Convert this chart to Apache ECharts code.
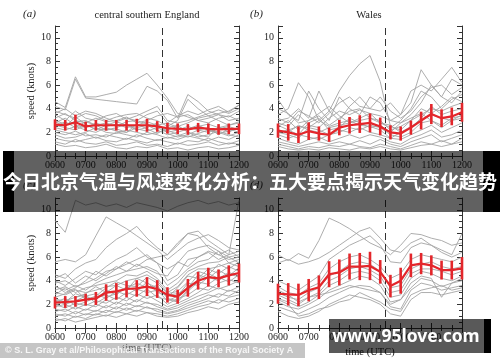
<!DOCTYPE html>
<html><head><meta charset="utf-8">
<script src="https://cdn.jsdelivr.net/npm/echarts@6/dist/echarts.min.js"></script>
<style>html,body{margin:0;padding:0;background:#fff}#c{width:500px;height:362px}</style>
</head><body><div id="c"></div>
<script>
// time in minutes since midnight, 20-min steps 0600..1200
const times = [360,380,400,420,440,460,480,500,520,540,560,580,600,620,640,660,680,700,720];
const xTickLabels = ['0600','0700','0800','0900','1000','1100','1200'];
const dashTime = 570;
const panelLabels = ['(a)','(b)','(c)','(d)'];
const panelTitles = ['central southern England','Wales','',''];
const yName = 'speed (knots)';
const xName = 'time (UTC)';

const meanA = [2.65,2.6,2.85,2.5,2.6,2.6,2.6,2.6,2.6,2.6,2.5,2.35,2.3,2.25,2.4,2.3,2.25,2.3,2.3];
const errA  = [0.45,0.45,0.65,0.4,0.45,0.45,0.45,0.45,0.55,0.55,0.45,0.45,0.45,0.45,0.4,0.45,0.45,0.45,0.45];
const meanB = [2.15,2.0,1.8,2.1,1.9,1.8,2.4,2.6,2.7,2.8,2.5,2.0,1.9,2.4,3.0,3.55,3.2,3.35,3.7];
const errB  = [0.6,0.7,0.7,0.75,0.6,0.6,0.65,0.7,0.75,0.8,0.75,0.6,0.6,0.6,0.75,0.85,0.75,0.75,0.8];
const meanC = [2.15,2.2,2.25,2.4,2.5,3.0,3.1,3.3,3.35,3.5,3.3,2.8,2.65,3.4,4.0,4.3,4.2,4.45,4.65];
const errC  = [0.5,0.5,0.45,0.5,0.55,0.7,0.7,0.7,0.7,0.8,0.75,0.65,0.6,0.75,0.75,0.8,0.75,0.85,0.8];
const meanD = [2.9,2.85,2.8,3.2,3.45,4.55,4.7,5.2,5.2,5.25,4.75,3.55,4.0,5.3,5.45,5.3,4.9,4.9,5.05];
const errD  = [0.85,0.95,0.95,0.95,1.0,1.1,1.1,1.1,1.15,1.2,1.0,0.95,1.1,1.0,0.9,0.85,0.8,0.8,0.95];

const greyA = [
 [4.6,4.1,6.7,5.0,5.0,5.2,5.4,6.0,6.5,7.0,6.0,4.9,3.6,3.3,3.0,3.2,3.5,3.3,3.8],
 [4.2,3.9,6.5,4.9,4.8,4.7,4.6,4.5,4.4,5.9,5.5,4.7,3.2,5.2,4.6,3.8,3.5,3.0,3.2],
 [3.8,3.5,3.2,3.6,3.4,3.0,3.3,3.5,3.6,3.2,3.0,2.5,3.0,4.8,4.0,3.4,3.6,3.8,4.3],
 [3.5,3.0,3.8,3.2,3.0,3.4,3.6,3.1,3.4,3.8,4.2,3.0,2.8,3.0,3.3,3.6,3.9,3.6,4.0],
 [3.2,3.6,3.0,2.8,3.2,2.9,3.0,3.3,2.8,3.0,3.4,3.6,3.3,3.5,3.0,2.8,3.2,3.4,3.0],
 [3.0,2.7,2.9,3.0,2.6,2.8,2.5,2.9,3.0,2.7,2.5,2.2,2.5,2.8,3.2,3.4,3.0,2.6,2.8],
 [2.8,3.2,2.6,2.4,2.8,2.5,2.7,2.4,2.6,2.9,2.6,2.8,2.4,2.2,2.5,2.7,2.4,2.6,2.9],
 [2.6,2.4,2.2,2.6,2.3,2.2,2.4,2.7,2.3,2.1,2.4,2.0,2.2,2.5,2.2,2.0,2.3,2.5,2.2],
 [2.4,2.2,2.5,2.2,2.0,2.4,2.1,2.0,2.4,2.6,2.2,1.8,2.0,2.3,2.6,2.2,1.9,2.1,2.4],
 [2.2,2.0,1.8,2.0,2.4,2.0,1.9,2.2,2.0,1.8,2.0,2.2,1.8,1.6,1.9,2.2,2.0,1.7,2.0],
 [2.0,1.8,2.1,1.7,1.8,1.6,2.0,1.8,1.6,2.0,1.8,1.5,1.7,2.0,1.6,1.8,2.1,1.8,1.6],
 [1.8,1.5,1.6,1.9,1.5,1.8,1.6,1.4,1.8,1.5,1.3,1.6,1.4,1.7,1.5,1.3,1.6,1.4,1.8],
 [1.5,1.3,1.2,1.4,1.6,1.3,1.2,1.5,1.3,1.1,1.4,1.2,1.0,1.3,1.2,1.5,1.2,1.0,1.3],
 [1.2,1.0,1.4,1.1,1.0,1.2,0.9,1.0,1.2,0.9,1.0,0.8,1.1,0.9,1.0,1.2,0.9,1.1,1.0],
 [3.6,4.0,3.4,3.8,3.6,3.2,2.9,3.2,3.0,3.5,3.8,2.8,3.4,3.8,3.5,3.9,4.2,3.7,4.3],
 [1.0,0.8,0.9,0.7,0.8,1.0,0.7,0.6,0.8,0.7,0.9,0.6,0.7,0.5,0.7,0.8,0.6,0.7,0.9],
 [2.9,2.5,3.3,2.7,2.2,2.6,2.9,2.6,2.2,2.4,2.8,1.9,1.6,1.8,2.2,2.4,1.8,2.3,2.0],
 [2.5,2.9,2.4,2.9,2.6,2.2,2.3,2.0,2.7,2.3,1.9,2.4,2.6,2.0,1.8,1.6,2.5,2.0,2.5]
];
const greyB = [
 [3.5,4.0,6.2,5.0,3.0,2.5,2.8,3.0,2.6,2.5,2.2,1.5,2.0,2.5,3.0,3.5,3.2,3.0,3.5],
 [2.0,2.2,2.5,2.4,3.0,3.8,5.5,6.8,7.8,8.5,6.3,2.5,2.2,3.0,3.5,4.0,3.8,4.2,4.5],
 [4.8,3.5,3.0,5.5,4.0,3.0,5.0,4.0,3.5,5.0,4.5,3.0,3.5,4.5,7.3,6.0,5.0,6.5,6.0],
 [3.0,3.2,4.0,3.2,5.5,3.8,3.0,4.2,5.0,4.0,3.8,4.5,3.5,5.5,6.0,5.5,6.5,7.5,6.2],
 [2.8,2.5,3.5,2.6,2.4,3.2,3.8,3.5,3.9,3.6,3.4,3.0,2.8,3.5,4.5,6.0,5.0,4.5,5.5],
 [2.5,3.0,2.2,3.0,3.4,2.6,3.2,3.8,4.0,3.2,3.0,2.2,2.5,3.0,4.0,3.6,4.2,5.0,4.6],
 [2.2,2.0,2.6,2.2,2.0,2.4,2.6,2.8,3.0,3.2,2.8,2.6,2.0,2.4,3.2,4.2,3.5,3.8,4.0],
 [2.0,1.8,1.5,2.4,2.2,1.8,2.0,2.4,2.2,2.6,2.4,1.8,1.6,2.0,2.8,3.0,2.6,3.2,3.4],
 [1.8,1.5,1.8,1.6,1.4,1.8,2.2,2.0,2.4,2.0,1.8,1.5,1.4,1.8,2.2,2.6,2.0,2.4,2.8],
 [1.5,1.2,1.0,1.4,1.6,1.2,1.5,1.8,1.5,1.8,1.6,1.2,1.0,1.5,1.8,2.2,1.6,1.8,2.2],
 [1.2,1.0,0.8,1.0,1.2,1.0,1.2,1.0,1.3,1.0,1.4,1.0,0.8,1.2,1.5,1.8,1.2,1.5,1.8],
 [1.0,0.8,0.6,0.8,0.7,0.9,0.8,1.0,0.8,0.7,1.0,0.8,0.6,0.9,1.2,1.0,1.3,1.0,1.5],
 [3.2,2.8,3.8,3.4,2.8,3.6,4.5,5.0,4.2,4.0,5.0,3.8,3.2,3.8,5.0,5.8,6.0,5.2,5.8],
 [2.6,2.2,1.8,2.8,3.2,2.2,2.4,3.2,2.8,2.4,2.6,2.0,2.8,3.2,3.6,3.0,2.4,3.0,3.2],
 [0.8,0.6,0.5,0.6,0.5,0.7,0.6,0.5,0.7,0.6,0.8,0.6,0.5,0.7,0.9,1.0,0.8,1.0,1.2],
 [4.0,3.6,2.8,3.0,3.6,4.2,3.4,2.8,3.2,3.6,2.8,2.4,3.0,4.0,5.5,5.0,4.0,4.8,5.2]
];
const greyC = [
 [9.1,8.1,10.8,10.4,10.6,10.3,10.5,10.2,10.6,10.4,10.2,9.9,10.3,10.6,10.8,10.5,10.7,10.4,10.6],
 [5.6,5.8,5.6,6.2,7.8,9.4,8.9,8.4,7.8,7.2,6.6,5.8,6.5,7.2,7.6,7.9,7.4,6.8,6.6],
 [4.5,4.2,5.0,5.5,5.8,6.8,7.5,8.0,8.6,7.6,6.8,6.2,7.0,8.0,8.2,7.4,6.8,6.2,6.5],
 [4.0,3.6,4.2,4.8,4.5,5.2,5.8,6.2,6.8,6.0,5.5,5.0,5.5,6.5,6.8,7.0,6.5,6.0,6.2],
 [3.8,4.0,3.5,3.8,4.2,4.8,5.0,5.4,5.8,6.2,5.5,4.0,4.5,5.8,6.0,6.5,6.2,5.8,6.0],
 [3.5,3.2,3.6,3.2,3.8,4.2,4.5,4.8,5.0,5.2,4.8,3.6,4.2,5.0,5.6,5.8,6.5,5.5,5.8],
 [3.2,3.5,3.0,3.4,3.6,3.8,4.0,4.5,4.4,4.8,4.2,3.2,3.8,4.8,5.2,5.5,5.6,6.0,5.5],
 [3.0,2.8,3.2,3.0,3.2,3.5,3.6,4.0,4.2,4.5,4.0,3.0,3.5,4.5,5.0,5.0,5.2,5.5,5.2],
 [2.8,3.4,2.6,2.9,3.5,3.0,3.6,3.2,4.2,3.8,3.4,2.6,3.4,4.4,4.2,5.0,4.6,5.2,4.8],
 [2.5,2.2,2.9,2.6,2.4,3.2,2.8,3.5,3.1,3.9,3.0,2.8,2.9,3.4,4.5,4.2,4.9,4.4,5.1],
 [2.4,2.0,2.3,2.7,2.9,2.5,3.1,2.8,3.3,3.0,3.2,2.3,2.7,3.8,3.6,4.3,4.0,4.6,4.3],
 [2.2,2.5,1.9,2.2,2.6,2.8,2.4,3.0,2.7,3.3,2.6,2.4,2.2,3.1,3.9,3.7,4.3,3.9,4.5],
 [2.0,1.7,2.1,1.9,2.3,2.1,2.6,2.3,2.9,2.5,2.8,2.0,2.5,2.8,3.4,3.2,3.8,4.1,3.8],
 [1.8,2.0,1.6,2.0,1.8,2.4,2.0,2.6,2.2,2.8,2.3,1.8,2.1,2.5,3.0,3.6,3.3,3.6,4.0],
 [1.6,1.4,1.8,1.5,2.0,1.7,2.2,1.9,2.4,2.1,2.0,1.6,1.9,2.3,2.7,3.0,3.4,3.1,3.5],
 [1.4,1.6,1.2,1.6,1.4,1.9,1.6,2.1,1.8,2.2,1.8,1.5,1.7,2.1,2.4,2.8,2.6,3.2,3.0],
 [1.2,1.0,1.4,1.1,1.5,1.3,1.8,1.5,1.9,1.7,1.6,1.3,1.5,1.9,2.2,2.5,2.9,2.7,3.2],
 [1.0,1.2,0.9,1.2,1.1,1.5,1.3,1.7,1.4,1.8,1.4,1.2,1.4,1.7,2.0,2.3,2.1,2.6,2.8],
 [0.8,0.6,1.0,0.8,1.2,1.0,1.4,1.2,1.5,1.3,1.2,1.0,1.2,1.5,1.8,2.0,2.4,2.2,2.5],
 [0.6,0.8,0.5,0.7,0.9,1.1,0.9,1.2,1.0,1.3,1.0,0.9,1.0,1.3,1.5,1.8,1.6,2.0,2.2],
 [4.2,4.6,3.8,4.4,4.0,4.6,5.2,4.8,5.4,5.0,4.6,4.4,5.6,5.2,6.0,6.4,5.8,6.2,10.8],
 [3.6,3.0,3.4,4.0,4.8,4.4,5.0,5.6,5.2,5.8,6.0,6.2,7.2,8.0,7.8,6.8,6.2,6.6,6.0],
 [2.6,2.9,3.3,2.4,2.7,3.4,3.9,3.6,3.5,4.3,3.8,2.9,3.1,3.9,4.8,4.5,5.4,5.0,5.6],
 [1.9,2.3,2.6,2.8,2.1,2.6,2.9,3.4,3.8,3.4,3.6,2.5,2.3,3.2,4.1,4.6,4.2,4.7,4.4]
];
const greyD = [
 [6.2,5.7,6.3,5.9,7.4,9.3,8.9,8.4,7.8,7.2,6.8,6.2,7.0,8.0,7.9,7.6,7.4,7.0,7.2],
 [5.5,5.8,5.4,5.6,5.9,6.4,7.0,7.6,8.2,8.5,7.6,6.6,6.4,7.2,7.6,7.0,6.6,6.2,8.0],
 [4.0,3.6,3.2,3.8,4.4,5.8,6.4,7.0,7.4,7.8,7.0,5.6,5.5,6.8,7.2,7.0,6.4,6.0,6.4],
 [3.5,3.0,2.8,3.4,3.8,5.0,5.6,6.0,6.2,5.8,5.2,4.2,4.6,5.8,6.2,6.0,5.8,5.6,6.0],
 [3.0,2.6,2.4,3.0,3.4,4.4,4.8,5.4,5.6,5.4,4.8,3.4,3.6,5.0,5.4,5.6,5.2,5.0,5.2],
 [2.8,2.4,2.0,2.6,3.0,4.0,4.4,5.0,5.2,4.9,4.4,3.0,3.2,4.6,5.0,5.0,4.8,4.5,4.8],
 [2.5,2.2,1.8,2.2,2.8,3.6,4.0,4.6,4.8,4.6,4.0,2.6,2.8,4.2,4.8,4.6,4.2,4.0,4.4],
 [2.2,1.8,1.6,2.0,2.5,3.2,3.6,4.0,4.4,4.2,3.6,2.2,2.4,3.8,4.4,4.2,2.6,3.8,4.0],
 [1.8,1.5,1.2,1.6,2.0,2.6,3.0,3.4,3.6,3.5,3.0,1.8,1.6,3.2,3.8,3.6,3.2,3.4,3.6],
 [1.4,1.0,0.8,1.0,1.4,2.0,2.4,2.8,2.6,2.4,2.0,1.2,1.0,2.4,3.0,3.0,2.8,3.0,3.2],
 [2.4,2.0,1.0,1.2,1.6,1.8,2.2,2.4,3.0,2.6,2.2,1.6,1.4,2.8,3.2,3.4,3.6,3.2,3.4],
 [3.2,2.8,2.2,2.6,2.8,3.0,3.3,3.6,3.4,3.2,3.0,2.0,2.4,3.4,4.2,4.0,3.5,3.8,4.2]
];

const panels = [
  {mean: meanA, err: errA, grey: greyA},
  {mean: meanB, err: errB, grey: greyB},
  {mean: meanC, err: errC, grey: greyC},
  {mean: meanD, err: errD, grey: greyD}
];

const SERIF = "'Liberation Serif','DejaVu Serif',serif";
const RED = '#e3262b';
const gridPos = [
  {left: 55, top: 26, width: 184, height: 130},
  {left: 278, top: 26, width: 184, height: 130},
  {left: 55, top: 198, width: 184, height: 130},
  {left: 278, top: 198, width: 184, height: 130}
];
const xNameGaps = [0, 0, 11, 19];

const grid = [], xAxis = [], yAxis = [], series = [];
panels.forEach((p, i) => {
  grid.push(gridPos[i]);
  const axLine = {show: true, lineStyle: {color: '#333', width: 1}};
  const xBase = {type: 'value', gridIndex: i, min: 360, max: 720, interval: 60,
    axisLine: axLine, splitLine: {show: false},
    axisTick: {show: true, inside: true, length: 5, lineStyle: {color: '#333'}},
    minorTick: {show: true, splitNumber: 3, length: 3, lineStyle: {color: '#333'}}};
  xAxis.push(Object.assign({}, xBase, {position: 'bottom',
    axisLabel: {show: true, fontFamily: SERIF, fontSize: 10, color: '#222', margin: 4,
      formatter: v => xTickLabels[Math.round((v - 360) / 60)] || ''},
    name: i >= 2 ? xName : '', nameLocation: 'middle', nameGap: xNameGaps[i],
    nameTextStyle: {fontFamily: SERIF, fontSize: 10.5, color: '#222'}}));
  xAxis.push(Object.assign({}, xBase, {position: 'top', axisLabel: {show: false}}));
  const yBase = {type: 'value', gridIndex: i, min: 0, max: 11, interval: 2,
    axisLine: axLine, splitLine: {show: false},
    axisTick: {show: true, inside: true, length: 5, lineStyle: {color: '#333'}},
    minorTick: {show: true, splitNumber: 4, length: 3, lineStyle: {color: '#333'}}};
  yAxis.push(Object.assign({}, yBase, {position: 'left',
    axisLabel: {show: true, fontFamily: SERIF, fontSize: 10, color: '#222', margin: 4, showMaxLabel: false,
      formatter: v => (v > 10 ? '' : String(v))},
    name: (i % 2 === 0) ? yName : '', nameLocation: 'middle', nameGap: 18,
    nameTextStyle: {fontFamily: SERIF, fontSize: 10.5, color: '#222'}}));
  yAxis.push(Object.assign({}, yBase, {position: 'right', axisLabel: {show: false}}));

  p.grey.forEach(g => {
    series.push({type: 'line', xAxisIndex: 2 * i, yAxisIndex: 2 * i, silent: true,
      symbol: 'none', z: 1, clip: true,
      lineStyle: {color: '#a4a4a4', width: 0.9},
      data: times.map((t, k) => [t, g[k]])});
  });
  series.push({type: 'custom', xAxisIndex: 2 * i, yAxisIndex: 2 * i, z: 4, silent: true,
    encode: {x: 0, y: [1, 2]},
    data: times.map((t, k) => [t, p.mean[k] - p.err[k], p.mean[k] + p.err[k]]),
    renderItem: (params, api) => {
      const a = api.coord([api.value(0), api.value(1)]);
      const b = api.coord([api.value(0), api.value(2)]);
      return {type: 'line', shape: {x1: a[0], y1: a[1], x2: b[0], y2: b[1]},
        style: {stroke: RED, lineWidth: 2.6}};
    }});
  series.push({type: 'line', xAxisIndex: 2 * i, yAxisIndex: 2 * i, silent: true,
    symbol: 'none', z: 5, lineStyle: {color: RED, width: 2.2},
    data: times.map((t, k) => [t, p.mean[k]]),
    markLine: {silent: true, symbol: 'none', label: {show: false},
      lineStyle: {color: '#333', width: 1, type: [7, 4]},
      data: [{xAxis: dashTime}]}});
});

const graphic = [
  {type: 'text', left: 23, top: 9, style: {text: panelLabels[0], font: `italic 11px ${SERIF}`, fill: '#222'}},
  {type: 'text', x: 147, y: 15, style: {text: panelTitles[0], font: `10.5px ${SERIF}`, fill: '#222', align: 'center', verticalAlign: 'middle'}},
  {type: 'text', left: 250, top: 9, style: {text: panelLabels[1], font: `italic 11px ${SERIF}`, fill: '#222'}},
  {type: 'text', x: 369, y: 15, style: {text: panelTitles[1], font: `10.5px ${SERIF}`, fill: '#222', align: 'center', verticalAlign: 'middle'}},
  {type: 'text', left: 23, top: 180, style: {text: panelLabels[2], font: `italic 11px ${SERIF}`, fill: '#222'}},
  {type: 'text', left: 250, top: 180, style: {text: panelLabels[3], font: `italic 11px ${SERIF}`, fill: '#222'}},
  // headline banner overlay
  {type: 'rect', z: 100, shape: {x: 3, y: 151, width: 497, height: 61}, style: {fill: 'rgba(0,0,0,0.62)'}},
  {type: 'rect', z: 101, shape: {x: 3, y: 151, width: 11, height: 61}, style: {fill: '#000'}},
  {type: 'rect', z: 101, shape: {x: 483, y: 151, width: 17, height: 61}, style: {fill: '#000'}},
  {type: 'text', z: 102, x: 3, y: 182, style: {text: '今日北京气温与风速变化分析：五大要点揭示天气变化趋势',
    font: "bold 19px 'Noto Sans CJK SC'", fill: '#fff', verticalAlign: 'middle'}},
  // watermark
  {type: 'rect', z: 100, shape: {x: 329, y: 319, width: 155, height: 34}, style: {fill: 'rgba(0,0,0,0.65)'}},
  {type: 'rect', z: 101, shape: {x: 484, y: 319, width: 7, height: 34}, style: {fill: '#000'}},
  {type: 'text', z: 102, x: 406, y: 337, style: {text: 'www.95love.com', font: "bold 17.5px 'Noto Sans'",
    fill: '#fff', align: 'center', verticalAlign: 'middle'}},
  // credit bar
  {type: 'rect', z: 100, shape: {x: 0, y: 343, width: 305, height: 15}, style: {fill: 'rgba(150,150,150,0.55)'}},
  {type: 'text', z: 102, x: 5, y: 351, style: {text: '© S. L. Gray et al/Philosophical Transactions of the Royal Society A',
    font: "bold 9px 'Liberation Sans'", fill: 'rgba(255,255,255,0.85)', verticalAlign: 'middle'}}
];

const chart = echarts.init(document.getElementById('c'), null, {renderer: 'canvas'});
chart.setOption({animation: false, backgroundColor: '#fff', grid, xAxis, yAxis, series, graphic});
</script></body></html>
